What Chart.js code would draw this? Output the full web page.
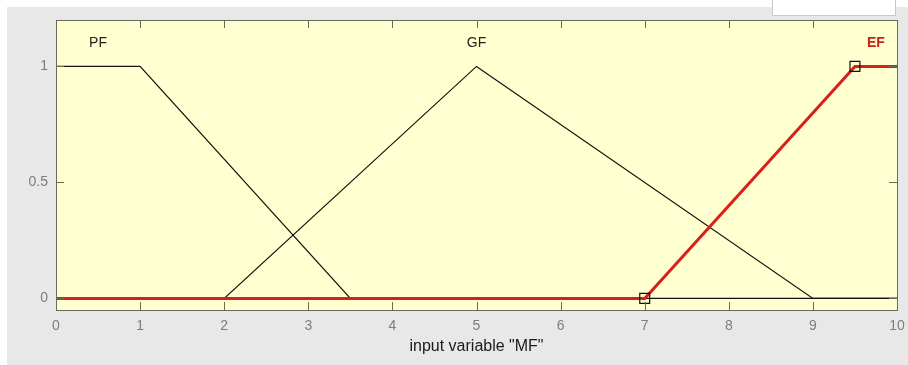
<!DOCTYPE html>
<html>
<head>
<meta charset="utf-8">
<script src="https://cdn.jsdelivr.net/npm/chart.js@4.4.1/dist/chart.umd.min.js"></script>
<style>
    html, body { margin: 0; padding: 0; background: #ffffff; }
    #wrap { position: relative; width: 908px; height: 365px; }
</style>
</head>
<body>
<div id="wrap"><canvas id="mfChart" width="908" height="365"></canvas></div>
<script>
// membership functions of input variable "MF"
const mfNames = ['PF', 'GF', 'EF'];
const pfX = [0, 1, 3.5, 10];
const pfY = [1, 1, 0, 0];
const gfX = [0, 2, 5, 9, 10];
const gfY = [0, 0, 1, 0, 0];
const efX = [0, 7, 9.5, 10];
const efY = [0, 0, 1, 1];
// selected MF break points (square markers)
const markX = [7, 9.5];
const markY = [0, 1];
// label anchor positions
const labelX = [0.5, 5, 9.75];
const labelY = [1.1, 1.1, 1.1];

const xTicks = [0, 1, 2, 3, 4, 5, 6, 7, 8, 9, 10];
const yTicks = [0, 0.5, 1];

const toPoints = (xs, ys) => xs.map((x, i) => ({ x: x, y: ys[i] }));

const plotBg = '#ffffcf';
const frameColor = '#6b6b5a';
const fontFam = '"Liberation Sans", Arial, sans-serif';

const framePlugin = {
    id: 'frame',
    beforeDraw(chart) {
        const ctx = chart.ctx;
        const a = chart.chartArea;
        ctx.save();
        ctx.fillStyle = '#ffffff';
        ctx.fillRect(0, 0, chart.width, chart.height);
        ctx.fillStyle = '#e8e8e8';
        ctx.fillRect(7, 7, chart.width - 7, chart.height - 7);
        // leftover box top right
        ctx.fillStyle = '#ffffff';
        ctx.fillRect(772, 0, 123, 15);
        ctx.strokeStyle = '#c8c8c8';
        ctx.lineWidth = 1;
        ctx.beginPath();
        ctx.moveTo(772.5, 0);
        ctx.lineTo(772.5, 15.5);
        ctx.lineTo(895.5, 15.5);
        ctx.lineTo(895.5, 0);
        ctx.stroke();
        ctx.fillStyle = plotBg;
        ctx.fillRect(a.left, a.top, a.right - a.left, a.bottom - a.top);
        ctx.restore();
    },
    afterDatasetsDraw(chart) {
        const ctx = chart.ctx;
        const a = chart.chartArea;
        const xs = chart.scales.x;
        const ys = chart.scales.y;
        ctx.save();
        ctx.strokeStyle = frameColor;
        ctx.lineWidth = 1;
        ctx.beginPath();
        xTicks.forEach(v => {
            const px = Math.round(xs.getPixelForValue(v)) + 0.5;
            ctx.moveTo(px, a.bottom);
            ctx.lineTo(px, a.bottom - 8);
            ctx.moveTo(px, a.top);
            ctx.lineTo(px, a.top + 8);
        });
        yTicks.forEach(v => {
            const py = Math.round(ys.getPixelForValue(v)) + 0.5;
            ctx.moveTo(a.left, py);
            ctx.lineTo(a.left + 8, py);
            ctx.moveTo(a.right, py);
            ctx.lineTo(a.right - 8, py);
        });
        ctx.stroke();
        ctx.strokeRect(Math.round(a.left) + 0.5, Math.round(a.top) + 0.5,
            Math.round(a.right - a.left), Math.round(a.bottom - a.top));
        // MF names
        ctx.textAlign = 'center';
        ctx.textBaseline = 'middle';
        mfNames.forEach((name, i) => {
            const isSel = i === 2;
            ctx.fillStyle = isSel ? '#d0201c' : '#222222';
            ctx.font = (isSel ? 'bold ' : '') + '14px ' + fontFam;
            ctx.fillText(name, xs.getPixelForValue(labelX[i]), ys.getPixelForValue(labelY[i]));
        });
        ctx.restore();
    }
};

new Chart(document.getElementById('mfChart'), {
    type: 'scatter',
    data: {
        datasets: [
            {
                label: mfNames[2],
                data: toPoints(efX, efY),
                showLine: true,
                borderColor: '#d8201a',
                borderWidth: 3,
                pointRadius: 0,
                order: 1
            },
            {
                label: mfNames[0],
                data: toPoints(pfX, pfY),
                showLine: true,
                borderColor: '#111111',
                borderWidth: 1.2,
                pointRadius: 0,
                order: 2
            },
            {
                label: mfNames[1],
                data: toPoints(gfX, gfY),
                showLine: true,
                borderColor: '#111111',
                borderWidth: 1.2,
                pointRadius: 0,
                order: 2
            },
            {
                label: 'marks',
                data: toPoints(markX, markY),
                showLine: false,
                pointStyle: 'rect',
                pointRadius: 7,
                borderColor: '#111111',
                borderWidth: 1.2,
                backgroundColor: 'rgba(0,0,0,0)',
                order: 0
            }
        ]
    },
    options: {
        responsive: false,
        animation: false,
        layout: { padding: { left: 7, top: 20, right: 11, bottom: 0 } },
        plugins: {
            legend: { display: false },
            tooltip: { enabled: false }
        },
        scales: {
            x: {
                type: 'linear',
                min: 0,
                max: 10,
                afterBuildTicks: s => { s.ticks = xTicks.map(v => ({ value: v })); },
                afterFit: s => { s.height = 55; },
                grid: { display: false },
                border: { display: false },
                ticks: {
                    color: '#7d7d7d',
                    font: { family: fontFam, size: 14 },
                    padding: 0,
                    maxRotation: 0,
                    callback: v => String(v)
                },
                title: {
                    display: true,
                    text: 'input variable "MF"',
                    color: '#1a1a1a',
                    font: { family: fontFam, size: 16 },
                    padding: { top: 0, bottom: 9 }
                }
            },
            y: {
                type: 'linear',
                min: -0.05,
                max: 1.2,
                afterBuildTicks: s => { s.ticks = yTicks.map(v => ({ value: v })); },
                afterFit: s => { s.width = 49; },
                grid: { display: false },
                border: { display: false },
                ticks: {
                    color: '#7d7d7d',
                    font: { family: fontFam, size: 14 },
                    padding: 0,
                    callback: v => String(v)
                }
            }
        }
    },
    plugins: [framePlugin]
});
</script>
</body>
</html>
